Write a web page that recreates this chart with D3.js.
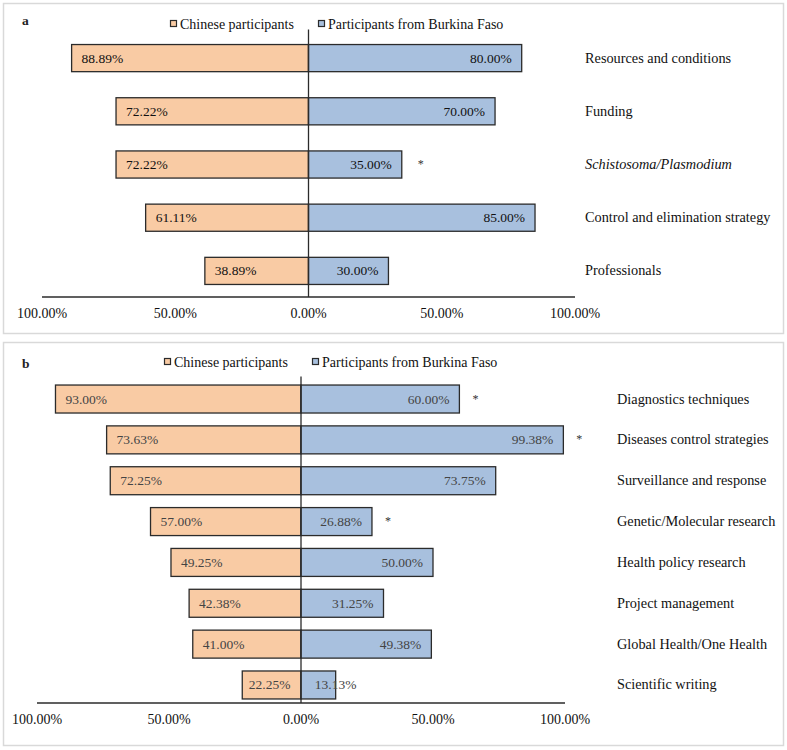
<!DOCTYPE html>
<html>
<head>
<meta charset="utf-8">
<script src="https://cdn.jsdelivr.net/npm/d3@7/dist/d3.min.js"></script>
<style>
  body { margin: 0; background: #fff; }
  svg { display: block; }
  text { font-family: "Liberation Serif", "Times New Roman", serif; }
</style>
</head>
<body>
<svg id="chart" width="787" height="750"></svg>
<script>
// ---------- data ----------
const seriesNames = ["Chinese participants", "Participants from  Burkina Faso"];

const catsA = ["Resources and conditions", "Funding", "Schistosoma/Plasmodium",
               "Control and elimination strategy", "Professionals"];
const chinaA = [88.89, 72.22, 72.22, 61.11, 38.89];
const burkinaA = [80.00, 70.00, 35.00, 85.00, 30.00];
const sigA = [false, false, true, false, false];
const italicA = [false, false, true, false, false];

const catsB = ["Diagnostics techniques", "Diseases control strategies", "Surveillance and response",
               "Genetic/Molecular research", "Health policy research", "Project management",
               "Global Health/One Health", "Scientific writing"];
const chinaB = [93.00, 73.63, 72.25, 57.00, 49.25, 42.38, 41.00, 22.25];
const burkinaB = [60.00, 99.38, 73.75, 26.88, 50.00, 31.25, 49.38, 13.13];
const sigB = [true, true, false, true, false, false, false, false];

const tickValues = [-100, -50, 0, 50, 100];
const tickLabels = ["100.00%", "50.00%", "0.00%", "50.00%", "100.00%"];

// ---------- drawing ----------
const svg = d3.select("#chart");
const ORANGE = "#f9cba4", BLUE = "#a8c0de", STROKE = "#2b2b2b";

function panel(cfg) {
  const g = svg.append("g");
  // frame
  g.append("rect").attr("x", cfg.box[0] + 0.5).attr("y", cfg.box[1] + 0.5)
    .attr("width", cfg.box[2]).attr("height", cfg.box[3])
    .attr("fill", "#fff").attr("stroke", "#d9d9d9").attr("stroke-width", 1.5);

  // panel letter
  g.append("text").attr("x", cfg.letterPos[0]).attr("y", cfg.letterPos[1])
    .attr("font-size", 13.5).attr("font-weight", "bold").attr("fill", "#222").text(cfg.letter);

  const x = d3.scaleLinear().domain([-100, 100]).range(cfg.xRange);
  const y = d3.scaleBand().domain(cfg.cats).range(cfg.yRange)
    .paddingInner(cfg.pad).paddingOuter(cfg.pad / 2);

  // legend
  cfg.legend.forEach((lx, i) => {
    g.append("rect").attr("x", lx + 0.5).attr("y", cfg.legendY - 3.5)
      .attr("width", 6).attr("height", 6)
      .attr("fill", i === 0 ? ORANGE : BLUE).attr("stroke", STROKE).attr("stroke-width", 1.2);
    g.append("text").attr("x", lx + 10).attr("y", cfg.legendY + 4.5)
      .attr("font-size", 14).attr("fill", "#111").text(seriesNames[i]);
  });

  const rows = cfg.cats.map((c, i) => ({ c, a: cfg.china[i], b: cfg.burkina[i], s: cfg.sig[i], it: cfg.italic ? cfg.italic[i] : false }));

  // bars
  g.selectAll(".ba").data(rows).enter().append("rect")
    .attr("x", d => x(-d.a)).attr("y", d => y(d.c))
    .attr("width", d => x(0) - x(-d.a)).attr("height", y.bandwidth())
    .attr("fill", ORANGE).attr("stroke", STROKE).attr("stroke-width", 1.3);
  g.selectAll(".bb").data(rows).enter().append("rect")
    .attr("x", x(0)).attr("y", d => y(d.c))
    .attr("width", d => x(d.b) - x(0)).attr("height", y.bandwidth())
    .attr("fill", BLUE).attr("stroke", STROKE).attr("stroke-width", 1.3);

  // value labels
  rows.forEach(d => {
    const cy = y(d.c) + y.bandwidth() / 2 + 4.5;
    const ta = g.append("text").attr("y", cy).attr("font-size", 13.5).attr("fill", cfg.valColor)
      .text(d.a.toFixed(2) + "%");
    const wa = ta.node().getComputedTextLength();
    const bwA = x(0) - x(-d.a);
    if (wa + 20 <= bwA) ta.attr("x", x(-d.a) + 10);
    else ta.attr("x", x(-d.a) + (bwA - wa) / 2 - 2);

    const tb = g.append("text").attr("y", cy).attr("font-size", 13.5).attr("fill", cfg.valColor)
      .text(d.b.toFixed(2) + "%");
    const wb = tb.node().getComputedTextLength();
    const bwB = x(d.b) - x(0);
    if (wb + 20 <= bwB) tb.attr("x", x(d.b) - 10).attr("text-anchor", "end");
    else tb.attr("x", x(d.b)).attr("text-anchor", "middle");

    if (d.s) {
      g.append("text").attr("x", x(d.b) + cfg.starOff).attr("y", cy - 1)
        .attr("font-size", 12).attr("fill", "#333").attr("text-anchor", "middle").text("*");
    }
    // category label
    g.append("text").attr("x", cfg.catX).attr("y", cy).attr("font-size", 14.3)
      .attr("fill", "#111").attr("font-style", d.it ? "italic" : "normal").text(d.c);
  });

  // centre line
  g.append("line").attr("x1", x(0)).attr("x2", x(0))
    .attr("y1", cfg.yRange[0] - 2).attr("y2", cfg.axisY)
    .attr("stroke", STROKE).attr("stroke-width", 1.3);
  // axis line
  g.append("line").attr("x1", x(-100)).attr("x2", x(100))
    .attr("y1", cfg.axisY).attr("y2", cfg.axisY)
    .attr("stroke", STROKE).attr("stroke-width", 1.3);
  // tick labels
  tickValues.forEach((v, i) => {
    g.append("text").attr("x", x(v)).attr("y", cfg.axisY + 21)
      .attr("text-anchor", "middle").attr("font-size", 14).attr("fill", "#111")
      .text(tickLabels[i]);
  });
}

panel({
  box: [3, 3, 780, 330], letter: "a", letterPos: [22, 25],
  cats: catsA, china: chinaA, burkina: burkinaA, sig: sigA, italic: italicA,
  xRange: [42, 575], yRange: [31.5, 297.5], pad: 0.49, axisY: 297,
  legend: [170, 318], legendY: 24, catX: 585, starOff: 19, valColor: "#111"
});

panel({
  box: [3, 342, 780, 403], letter: "b", letterPos: [22, 368],
  cats: catsB, china: chinaB, burkina: burkinaB, sig: sigB,
  xRange: [37, 565], yRange: [378.6, 705.4], pad: 0.315, axisY: 703,
  legend: [164, 312], legendY: 362, catX: 617, starOff: 16, valColor: "#444"
});
</script>
</body>
</html>
